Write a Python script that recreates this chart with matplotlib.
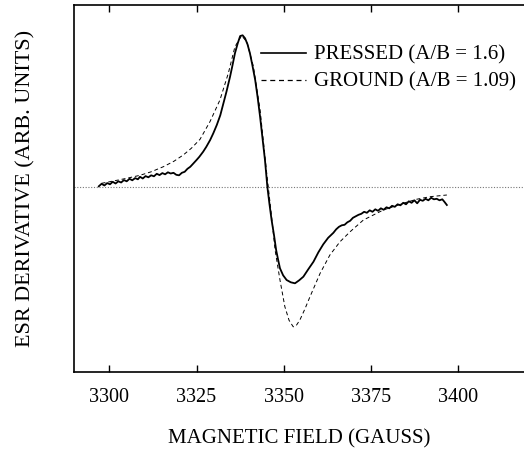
import matplotlib
matplotlib.use("Agg")
import matplotlib.pyplot as plt
from matplotlib.lines import Line2D

plt.rcParams['font.family'] = ['Liberation Serif', 'DejaVu Serif']

# PRESSED (A/B = 1.6) - field (G), derivative (arb. units)
pressed_x = [3297.0, 3297.8, 3298.6, 3299.4, 3300.2, 3301.0, 3301.8, 3302.6, 3303.4, 3304.2,
             3305.0, 3305.8, 3306.6, 3307.4, 3308.2, 3308.8, 3309.6, 3310.4, 3311.2, 3312.0,
             3312.8, 3313.6, 3314.4, 3315.2, 3316.0, 3316.8, 3317.6, 3318.4, 3319.2, 3320.0,
             3320.8, 3321.6, 3322.4, 3323.2, 3324.0, 3325.0, 3325.8, 3326.9, 3327.8, 3328.9,
             3329.8, 3330.8, 3331.8, 3332.7, 3333.6, 3334.6, 3335.3, 3336.0, 3336.8, 3337.5,
             3338.2, 3338.9, 3339.6, 3340.3, 3341.0, 3341.8, 3342.5, 3343.2, 3343.9, 3344.6,
             3345.3, 3345.9, 3346.5, 3347.2, 3347.8, 3348.4, 3348.9, 3349.8, 3350.8, 3352.0,
             3353.2, 3354.4, 3355.6, 3357.0, 3358.5, 3359.9, 3361.3, 3362.7, 3364.2,
             3365.0, 3365.8, 3366.6, 3367.4, 3368.2, 3369.0, 3369.8, 3370.6, 3371.4, 3372.2,
             3373.0, 3373.8, 3374.6, 3375.4, 3376.2, 3377.0, 3377.8, 3378.6, 3379.4, 3380.2,
             3381.0, 3381.8, 3382.6, 3383.4, 3384.2, 3385.0, 3385.8, 3386.6, 3387.4, 3388.2,
             3389.0, 3389.8, 3390.6, 3391.4, 3392.2, 3393.0, 3393.8, 3394.6, 3395.4, 3396.0,
             3396.7]
pressed_y = [1.0, 3.5, 1.8, 4.2, 3.0, 5.5, 3.8, 6.0, 4.8, 7.2,
             6.0, 8.5, 7.0, 9.2, 8.0, 10.5, 8.8, 11.2, 10.0, 12.0,
             11.0, 13.5, 12.2, 14.2, 13.0, 15.0, 13.8, 14.5, 12.5, 12.0,
             14.5, 15.5, 18.5, 20.5, 23.5, 27.3, 30.5, 35.6, 40.5, 47.3,
             54.0, 62.3, 72.0, 84.0, 96.0, 110.6, 122.0, 134.0, 144.0, 151.3,
             152.0, 149.0, 143.0, 134.0, 122.0, 107.3, 90.0, 70.6, 49.0, 27.3,
             0.0, -17.0, -32.7, -48.0, -62.7, -73.0, -81.0, -88.0, -92.7, -95.0,
             -96.0, -93.0, -89.4, -82.0, -74.4, -65.0, -57.0, -50.5, -45.5,
             -42.0, -39.5, -38.0, -37.5, -35.0, -33.5, -30.5, -29.0, -27.5, -26.5,
             -24.5, -25.5, -23.0, -24.5, -22.0, -23.5, -21.0, -22.5, -20.0, -21.0,
             -18.5, -19.5, -17.0, -18.0, -15.5, -17.0, -14.0, -15.5, -13.0, -16.0,
             -12.5, -13.5, -11.5, -13.0, -10.5, -12.0, -11.5, -13.0, -12.0, -14.5,
             -17.7]

# GROUND (A/B = 1.09)
ground_x = [3297.8, 3300.2, 3305.0, 3308.8, 3312.0, 3315.5, 3318.5, 3321.2, 3323.5, 3326.0,
            3328.9, 3331.7, 3334.1, 3336.0, 3337.9, 3339.4, 3341.3, 3343.2, 3345.1, 3346.5,
            3347.5, 3348.9, 3350.3, 3351.5, 3352.7, 3353.6, 3354.6, 3356.0, 3357.5, 3360.4,
            3363.2, 3366.1, 3369.0, 3372.8, 3378.5, 3384.2, 3388.0, 3391.9, 3396.7]
ground_y = [4.0, 5.6, 9.0, 12.0, 15.5, 20.6, 26.0, 32.3, 39.0, 48.0,
            66.0, 87.3, 114.0, 140.6, 151.6, 145.6, 120.6, 77.3, 14.0, -29.4,
            -62.7, -92.7, -119.4, -133.0, -139.5, -138.0, -132.7, -122.0, -109.4, -86.0,
            -67.7, -54.4, -44.4, -32.7, -22.7, -16.0, -12.0, -9.4, -7.7]

xticks = [3300, 3325, 3350, 3375, 3400]

fig = plt.figure(figsize=(5.24, 4.51), dpi=100)
ax = fig.add_axes([74/524, 1 - 371.7/451, (524 - 74)/524, (371.7 - 5.3)/451])

ax.axhline(0, color='#777777', lw=0.8, ls=(0, (1, 1.5)), zorder=1)
ax.plot(pressed_x, pressed_y, color='black', lw=1.3, zorder=3)
ax.plot(ground_x, ground_y, color='black', lw=0.7, ls=(0, (4, 3)), zorder=2)

ax.set_xlim(3289.9, 3418.8)
ax.set_ylim(-184.4, 182.0)
ax.set_xticks(xticks)
ax.set_xticklabels([str(t) for t in xticks])
ax.set_yticks([])
ax.tick_params(axis='x', direction='in', top=True, bottom=True, length=5, width=1,
               labelsize=14.5, pad=12)
for s in ['left', 'top', 'bottom']:
    ax.spines[s].set_linewidth(1.2)
ax.spines['right'].set_visible(False)

ax.set_xlabel('MAGNETIC FIELD (GAUSS)', fontsize=15, labelpad=16)
ax.set_ylabel('ESR DERIVATIVE (ARB. UNITS)', fontsize=15.9, labelpad=28)

handles = [Line2D([], [], color='black', lw=1.2),
           Line2D([], [], color='black', lw=0.9, ls=(0, (4, 3)))]
leg = ax.legend(handles, ['PRESSED (A/B = 1.6)', 'GROUND (A/B = 1.09)'],
                loc='upper left', bbox_to_anchor=((265 - 74)/450 - 0.01, 1 - 40/366.4),
                frameon=False, fontsize=15, handlelength=2.2, handletextpad=0.35,
                labelspacing=0.36, borderpad=0, borderaxespad=0)

fig.savefig('out.png', dpi=100)
